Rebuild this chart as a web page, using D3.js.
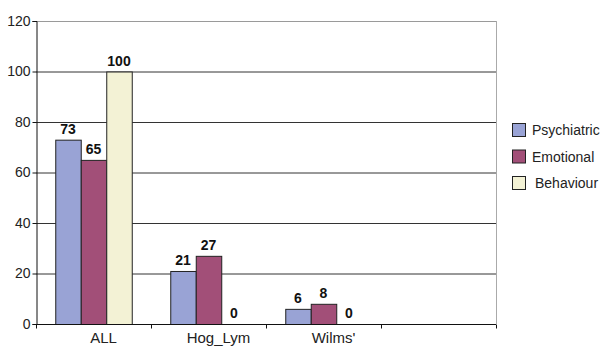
<!DOCTYPE html>
<html>
<head>
<meta charset="utf-8">
<script src="https://cdn.jsdelivr.net/npm/d3@7"></script>
<style>
body { margin: 0; background: #fff; }
text { font-family: "Liberation Sans", Arial, sans-serif; }
</style>
</head>
<body>
<div id="chart"></div>
<script>
let categories = ['ALL', 'Hog_Lym', "Wilms'", '']
let series = ['Psychiatric', 'Emotional', 'Behaviour']
let psychiatric = [73, 21, 6, null]
let emotional = [65, 27, 8, null]
let behaviour = [100, 0, 0, null]
let yTicks = [0, 20, 40, 60, 80, 100, 120]
let colors = ['#99a3d5', '#a24f78', '#f3f2d5']

let width = 607, height = 348
let margin = {top: 21, right: 111, bottom: 24, left: 36}

let svg = d3.select('#chart').append('svg').attr('width', width).attr('height', height)

let x = d3.scaleBand().domain(categories).range([margin.left, width - margin.right])
let xInner = d3.scaleBand().domain(series).range([0, 76.5])
let groupOffset = (x.bandwidth() - 76.5) / 2
let y = d3.scaleLinear().domain([0, 120]).range([height - margin.bottom, margin.top])

// gridlines
svg.append('g').selectAll('line').data(yTicks.filter(t => t > 0)).enter().append('line')
    .attr('x1', margin.left).attr('x2', width - margin.right)
    .attr('y1', d => y(d) + 0.5).attr('y2', d => y(d) + 0.5)
    .attr('stroke', d => d === 120 ? '#9a9a9a' : '#333')
    .attr('stroke-width', 1)

// right border
svg.append('line').attr('x1', width - margin.right + 0.5).attr('x2', width - margin.right + 0.5)
    .attr('y1', y(120)).attr('y2', y(0)).attr('stroke', '#aaa')

let data = categories.map((c, i) => ({cat: c, values: [psychiatric[i], emotional[i], behaviour[i]]}))

let groups = svg.selectAll('.group').data(data.filter(d => d.cat !== '')).enter().append('g')
    .attr('transform', d => 'translate(' + (x(d.cat) + groupOffset) + ',0)')

groups.selectAll('rect').data(d => d.values.map((v, i) => ({key: series[i], v: v, i: i})))
    .enter().append('rect')
    .filter(d => d.v > 0)
    .attr('x', d => xInner(d.key) + 0.5)
    .attr('y', d => y(d.v) + 0.5)
    .attr('width', xInner.bandwidth())
    .attr('height', d => y(0) - y(d.v))
    .attr('fill', d => colors[d.i])
    .attr('stroke', '#222')
    .attr('stroke-width', 1)

groups.selectAll('.val').data(d => d.values.map((v, i) => ({key: series[i], v: v})))
    .enter().append('text')
    .attr('class', 'val')
    .attr('x', d => xInner(d.key) + xInner.bandwidth() / 2)
    .attr('y', d => y(d.v) - 6)
    .attr('text-anchor', 'middle')
    .attr('font-size', 14)
    .attr('font-weight', 'bold')
    .attr('fill', '#111')
    .text(d => d.v)

// axes
let yAxis = d3.axisLeft(y).tickValues(yTicks).tickSize(4).tickPadding(2)
let gy = svg.append('g').attr('transform', 'translate(' + (margin.left + 0.5) + ',0)').call(yAxis)
gy.select('.domain').attr('stroke', '#111')
gy.selectAll('.tick line').attr('stroke', '#111')
gy.selectAll('text').attr('font-size', 14).attr('fill', '#222').attr('font-family', '"Liberation Sans", Arial, sans-serif')

let gx = svg.append('g').attr('transform', 'translate(0,' + (y(0) + 0.5) + ')')
gx.append('line').attr('x1', margin.left).attr('x2', width - margin.right).attr('stroke', '#111')
let tickPos = categories.map(c => x(c)).concat([x(categories[categories.length - 1]) + x.bandwidth()])
gx.selectAll('.tk').data(tickPos).enter().append('line')
    .attr('x1', d => d + 0.5).attr('x2', d => d + 0.5).attr('y1', 0).attr('y2', 4).attr('stroke', '#111')
gx.selectAll('.lbl').data(categories.filter(c => c !== '')).enter().append('text')
    .attr('x', d => x(d) + x.bandwidth() / 2 + 10)
    .attr('y', 18)
    .attr('text-anchor', 'middle')
    .attr('font-size', 15)
    .attr('fill', '#222')
    .text(d => d)

// legend
let legend = svg.selectAll('.legend').data(series).enter().append('g')
    .attr('transform', (d, i) => 'translate(512,' + (123 + i * 26.5) + ')')
legend.append('rect').attr('x', 0.5).attr('y', 0.5).attr('width', 13).attr('height', 13)
    .attr('fill', (d, i) => colors[i]).attr('stroke', '#222')
legend.append('text').attr('x', (d, i) => i === 2 ? 23 : 20).attr('y', 12)
    .attr('font-size', 14).attr('fill', '#222').text(d => d)
</script>
</body>
</html>
